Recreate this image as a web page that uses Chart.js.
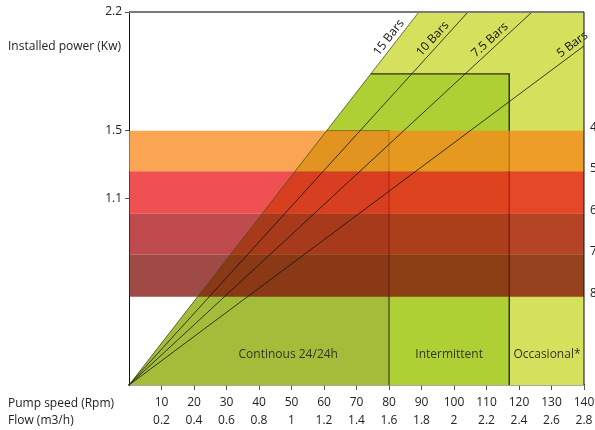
<!DOCTYPE html>
<html>
<head>
<meta charset="utf-8">
<script src="https://cdn.jsdelivr.net/npm/chart.js@4.4.1/dist/chart.umd.min.js"></script>
<style>
    html, body { margin: 0; padding: 0; background: #fff; }
</style>
</head>
<body>
<canvas id="chart" width="595" height="430"></canvas>
<script>
// x ticks: pump speed and the matching flow
const rpmTicks  = [10, 20, 30, 40, 50, 60, 70, 80, 90, 100, 110, 120, 130, 140]
const flowTicks = ['0.2', '0.4', '0.6', '0.8', '1', '1.2', '1.4', '1.6', '1.8', '2', '2.2', '2.4', '2.6', '2.8']
const powerTicks = [1.1, 1.5, 2.2]

// pressure lines, from the origin to their end point
const pressureNames  = ['15 Bars', '10 Bars', '7.5 Bars', '5 Bars']
const pressureEndRpm = [89.2, 104.3, 124, 140]
const pressureEndKw  = [2.2, 2.2, 2.2, 2.0]

// duty zones, bounded on the left by the 15 Bars line
const zoneNames  = ['Continous 24/24h', 'Intermittent', 'Occasional*']
const zoneMaxRpm = [80, 117, 140]
const zoneMaxKw  = [1.5, 1.835, 2.2]

// horizontal power bands
const bandEdgesKw = [1.5, 1.26, 1.01, 0.77, 0.52]
const bandLabels  = ['4', '5', '6', '7', '8']

const FONT = '"Open Sans", "Noto Sans", sans-serif'
const zoneColors  = ['#a3bd3a', '#afd035', '#d5e05c']
const zoneBorders = ['#5d6b2a', '#2a2f12', null]
const zoneBorderWidths = [1, 1.4, 0]
const bandColors  = ['rgba(247,135,24,0.75)', 'rgba(234,22,24,0.75)', 'rgba(170,15,19,0.75)', 'rgba(128,14,11,0.75)']

const slope15 = pressureEndKw[0] / pressureEndRpm[0]

const datasets = []

// zones: a higher order is drawn earlier, so the widest zone goes underneath
zoneNames.forEach((name, i) => {
    const kneeRpm = zoneMaxKw[i] / slope15
    datasets.push({
        label: name,
        data: [
            {x: 0, y: 0},
            {x: kneeRpm, y: zoneMaxKw[i]},
            {x: zoneMaxRpm[i], y: zoneMaxKw[i]},
            {x: zoneMaxRpm[i], y: 0}
        ],
        backgroundColor: zoneColors[i],
        fill: 'origin',
        borderWidth: 0,
        pointRadius: 0,
        order: 30 + i
    })
    if (zoneBorders[i]) {
        datasets.push({
            label: name + ' edge',
            data: [
                {x: kneeRpm, y: zoneMaxKw[i]},
                {x: zoneMaxRpm[i], y: zoneMaxKw[i]},
                {x: zoneMaxRpm[i], y: 0}
            ],
            borderColor: zoneBorders[i],
            borderWidth: zoneBorderWidths[i],
            fill: false,
            pointRadius: 0,
            order: 20 + i
        })
    }
})

// power bands
bandColors.forEach((color, i) => {
    datasets.push({
        label: 'band ' + bandLabels[i],
        data: [{x: 0, y: bandEdgesKw[i]}, {x: 140, y: bandEdgesKw[i]}],
        backgroundColor: color,
        fill: {value: bandEdgesKw[i + 1]},
        borderWidth: 0,
        pointRadius: 0,
        order: 10
    })
})

// pressure lines
pressureNames.forEach((name, i) => {
    datasets.push({
        label: name,
        data: [{x: 0, y: 0}, {x: pressureEndRpm[i], y: pressureEndKw[i]}],
        borderColor: i === 0 ? '#4a5220' : '#111',
        borderWidth: 0.8,
        fill: false,
        pointRadius: 0,
        order: 2
    })
})

const barLabelKw = [2.02, 2.01, 2.0, 1.97]
const zoneLabelRpm = [49, 98.5, 128.6]

const overlay = {
    id: 'overlay',
    afterDatasetsDraw(chart) {
        const {ctx, chartArea: a, scales: {x, y}} = chart
        ctx.save()

        // frame top and right
        ctx.strokeStyle = '#7a7a7a'
        ctx.lineWidth = 2
        ctx.beginPath(); ctx.moveTo(a.left, a.top); ctx.lineTo(a.right, a.top); ctx.stroke()
        ctx.strokeStyle = '#111'
        ctx.lineWidth = 1
        ctx.beginPath(); ctx.moveTo(a.right, a.top); ctx.lineTo(a.right, a.bottom); ctx.stroke()

        // pressure labels along their lines
        ctx.fillStyle = '#111'
        ctx.font = '12px ' + FONT
        ctx.textAlign = 'center'
        ctx.textBaseline = 'middle'
        pressureNames.forEach((name, i) => {
            const kw = barLabelKw[i]
            const rpm = kw * pressureEndRpm[i] / pressureEndKw[i]
            const dx = x.getPixelForValue(pressureEndRpm[i]) - x.getPixelForValue(0)
            const dy = y.getPixelForValue(0) - y.getPixelForValue(pressureEndKw[i])
            const angle = Math.atan2(dy, dx)
            ctx.save()
            ctx.translate(x.getPixelForValue(rpm), y.getPixelForValue(kw))
            ctx.rotate(-angle)
            ctx.fillText(name, 0, -8)
            ctx.restore()
        })

        // zone names
        ctx.fillStyle = '#33351f'
        zoneNames.forEach((name, i) => {
            ctx.fillText(name, x.getPixelForValue(zoneLabelRpm[i]), y.getPixelForValue(0.18))
        })

        // band labels on the right, cut by the page edge
        ctx.fillStyle = '#222'
        ctx.textAlign = 'left'
        bandLabels.forEach((label, i) => {
            ctx.fillText(label, a.right + 6, y.getPixelForValue(bandEdgesKw[i]) - 3)
        })

        // axis titles
        ctx.fillText('Installed power (Kw)', 8, a.top + 35)
        ctx.fillText('Pump speed (Rpm)', 8, a.bottom + 19)
        ctx.fillText('Flow (m3/h)', 8, a.bottom + 36)

        ctx.restore()
    }
}

new Chart(document.getElementById('chart'), {
    type: 'line',
    data: {datasets: datasets},
    plugins: [overlay],
    options: {
        responsive: false,
        animation: false,
        layout: {padding: {top: 12, right: 11, left: 0, bottom: 0}},
        plugins: {
            legend: {display: false},
            tooltip: {enabled: false}
        },
        elements: {line: {tension: 0}},
        scales: {
            x: {
                type: 'linear',
                min: 0,
                max: 140,
                afterBuildTicks: scale => {
                    scale.ticks = rpmTicks.map(v => ({value: v}))
                },
                afterFit: scale => {
                    scale.height = 45
                    scale.paddingLeft = 0
                    scale.paddingRight = 0
                },
                ticks: {
                    autoSkip: false,
                    maxRotation: 0,
                    padding: 4,
                    color: '#222',
                    font: {family: FONT, size: 12, lineHeight: 1.45},
                    callback: (value) => {
                        const i = rpmTicks.indexOf(value)
                        return [String(value), flowTicks[i]]
                    }
                },
                grid: {drawOnChartArea: false, tickLength: 5, color: '#555', tickWidth: 1},
                border: {color: '#555', width: 1.5}
            },
            y: {
                type: 'linear',
                min: 0,
                max: 2.2,
                afterBuildTicks: scale => {
                    scale.ticks = powerTicks.map(v => ({value: v}))
                },
                afterFit: scale => {
                    scale.width = 129
                    scale.paddingTop = 0
                    scale.paddingBottom = 0
                },
                ticks: {
                    padding: 3,
                    color: '#222',
                    font: {family: FONT, size: 12},
                    callback: value => String(value)
                },
                grid: {drawOnChartArea: false, tickLength: 4, color: '#555'},
                border: {color: '#111', width: 1}
            }
        }
    }
})
</script>
</body>
</html>
